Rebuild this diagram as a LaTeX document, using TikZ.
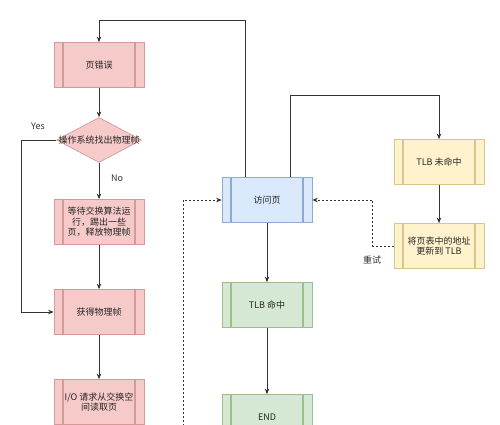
\documentclass[tikz,border=0pt]{standalone}
\usepackage{fontspec}
\setmainfont{Noto Sans CJK SC}
\usetikzlibrary{arrows.meta,shapes.geometric}
\definecolor{redf}{HTML}{F7CACA}\definecolor{reds}{HTML}{D49A9A}
\definecolor{bluef}{HTML}{DAE8FC}\definecolor{blues}{HTML}{8FA9CF}
\definecolor{yelf}{HTML}{FFF2CC}\definecolor{yels}{HTML}{D9C48C}
\definecolor{grnf}{HTML}{D5E8D4}\definecolor{grns}{HTML}{9CBF8A}
\definecolor{ln}{HTML}{333333}
\tikzset{
  proc/.style={draw=#1s, fill=#1f, line width=0.7pt, minimum width=90pt, minimum height=45pt,
    align=center, inner sep=1pt, text=black!85, font=\fontsize{9}{10.5}\selectfont,
    path picture={\draw[#1s, line width=1.4pt]
      ([xshift=9pt]path picture bounding box.north west) -- ([xshift=9pt]path picture bounding box.south west)
      ([xshift=-9pt]path picture bounding box.north east) -- ([xshift=-9pt]path picture bounding box.south east);}},
  conn/.style={draw=ln, line width=0.8pt, -{Stealth[length=5.5pt,width=4.5pt]}},
  dconn/.style={conn, dash pattern=on 2pt off 2pt},
  lbl/.style={font=\fontsize{9}{10}\selectfont, text=ln}
}
\begin{document}
\begin{tikzpicture}[x=1pt,y=-1pt]
\useasboundingbox (0,0) rectangle (500,424);
\fill[white] (0,0) rectangle (500,424);
\clip (0,0) rectangle (500,424);
\node[proc=red] (pf) at (99,65) {页错误};
\node[draw=reds, fill=redf, line width=0.7pt, diamond, minimum width=85pt, minimum height=45pt, inner sep=0pt,
  label={[lbl, text=black!85]center:操作系统找出物理帧}] (dec) at (99,140) {};
\node[proc=red] (wait) at (99,222) {等待交换算法运\\行，踢出一些\\页，释放物理帧};
\node[proc=red] (get) at (99,312) {获得物理帧};
\node[proc=red] (io) at (99,402) {I/O 请求从交换空\\间读取页};
\node[proc=blue] (acc) at (267,200) {访问页};
\node[proc=grn] (hit) at (267,305) {TLB 命中};
\node[proc=grn] (end) at (267,417) {END};
\node[proc=yel] (miss) at (439,162) {TLB 未命中};
\node[proc=yel] (upd) at (439,246) {将页表中的地址\\更新到 TLB};
\coordinate (lb) at (183,430);
\node[lbl] (yes) at (38,126) {Yes};
\node[lbl] (no) at (117,178) {No};
\node[lbl] (retry) at (372,260) {重试};
\draw[conn] (pf) -- (dec);
\draw[conn] (dec) -- (wait);
\draw[conn] (wait) -- (get);
\draw[conn] (get) -- (io);
\draw[conn] (dec.west) -- (21,140) |- (get.west);
\draw[conn] ([xshift=-22pt]acc.north) -- ++(0,-157) -| (pf.north);
\draw[conn] ([xshift=23pt]acc.north) -- ++(0,-82) -| (miss.north);
\draw[conn] (miss) -- (upd);
\draw[dconn] (upd.west) -- ++(-21,0) |- (acc.east);
\draw[dconn] (lb) |- (acc.west);
\draw[conn] (acc) -- (hit);
\draw[conn] (hit) -- (end);
\end{tikzpicture}
\end{document}
